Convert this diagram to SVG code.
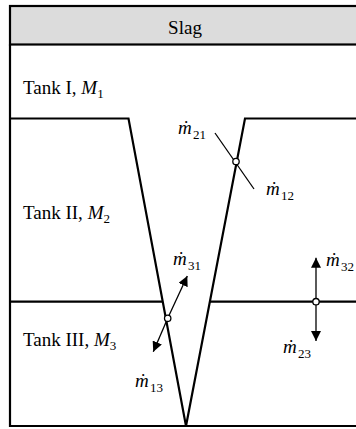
<svg xmlns="http://www.w3.org/2000/svg" width="356" height="429" viewBox="0 0 356 429">
<style>
text{font-family:"Liberation Serif","Times New Roman",serif;fill:#000}
.lbl{font-size:19px}
.mv{font-size:19px;font-style:italic}
.sub{font-size:13px;font-style:normal}
.thick{stroke:#000;stroke-width:2.2;fill:none}
.thin{stroke:#000;stroke-width:1.3;fill:none}
.node{fill:#fff;stroke:#000;stroke-width:1.3}
</style>
<defs>
<marker id="ah" viewBox="0 0 10 10" refX="10" refY="5" markerWidth="10" markerHeight="10" markerUnits="userSpaceOnUse" orient="auto">
<path d="M0,0 L10,5 L0,10 Z" fill="#000"/>
</marker>
</defs>
<g id="header">
<rect x="10" y="6" width="360" height="38.5" fill="#dcdcdc" stroke="#000" stroke-width="2.2"/>
<text class="lbl" x="185" y="33.5" text-anchor="middle" font-size="20">Slag</text>
</g>
<g id="frame">
<path class="thick" d="M10,44.5 V426 H360"/>
</g>
<g id="tank1">
<text class="lbl" x="23" y="94">Tank I, <tspan font-style="italic">M</tspan><tspan font-size="13" dy="4">1</tspan></text>
</g>
<g id="tank2">
<path class="thick" d="M10,118.5 H128.5 L186,426 L245,118.5 H360"/>
<text class="lbl" x="23" y="219">Tank II, <tspan font-style="italic">M</tspan><tspan font-size="13" dy="4">2</tspan></text>
</g>
<g id="tank3">
<path class="thick" d="M10,301.7 H163"/>
<path class="thick" d="M209.5,301.7 H360"/>
<text class="lbl" x="23" y="346">Tank III, <tspan font-style="italic">M</tspan><tspan font-size="13" dy="4">3</tspan></text>
</g>
<g id="connectors">
<line class="thin" x1="215" y1="133" x2="254" y2="189"/>
<line class="thin" x1="167.7" y1="318.3" x2="187.3" y2="276" marker-end="url(#ah)"/>
<line class="thin" x1="167.7" y1="318.3" x2="153.3" y2="351.7" marker-end="url(#ah)"/>
<line class="thin" x1="316" y1="301.7" x2="316" y2="257.7" marker-end="url(#ah)"/>
<line class="thin" x1="316" y1="301.7" x2="316" y2="341" marker-end="url(#ah)"/>
</g>
<g id="node-12">
<circle class="node" cx="236" cy="161.5" r="3.2"/>
<text class="mv" x="178" y="134">ṁ<tspan class="sub" x="193" dy="5">21</tspan></text>
<text class="mv" x="266" y="195">ṁ<tspan class="sub" x="281" dy="5">12</tspan></text>
</g>
<g id="node-13">
<circle class="node" cx="167.7" cy="318.3" r="3.2"/>
<text class="mv" x="173" y="265">ṁ<tspan class="sub" x="188" dy="5">31</tspan></text>
<text class="mv" x="135" y="387">ṁ<tspan class="sub" x="150" dy="5">13</tspan></text>
</g>
<g id="node-23">
<circle class="node" cx="316" cy="301.7" r="3.2"/>
<text class="mv" x="326" y="266">ṁ<tspan class="sub" x="341" dy="5">32</tspan></text>
<text class="mv" x="283" y="353">ṁ<tspan class="sub" x="298" dy="5">23</tspan></text>
</g>
</svg>
